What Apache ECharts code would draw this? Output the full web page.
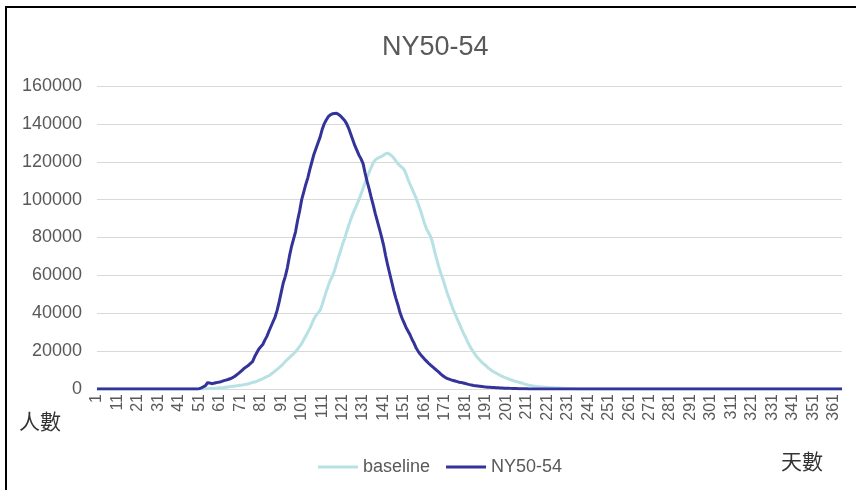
<!DOCTYPE html>
<html>
<head>
<meta charset="utf-8">
<script src="https://cdn.jsdelivr.net/npm/echarts@6/dist/echarts.min.js"></script>
<style>
html,body{margin:0;padding:0;background:#fff;}
#wrap{position:relative;width:856px;height:490px;overflow:hidden;}
#chart{position:absolute;left:0;top:0;width:856px;height:490px;}
#frame{position:absolute;left:5px;top:6px;width:900px;height:600px;border-left:2px solid #000;border-top:2px solid #000;pointer-events:none;}
</style>
</head>
<body>
<div id="wrap"><div id="chart"></div><div id="frame"></div></div>
<script>
// ---- data (one row = 10 days) ----
const titleText = 'NY50-54';
const seriesNames = ['baseline', 'NY50-54'];
const yTicks = [0, 20000, 40000, 60000, 80000, 100000, 120000, 140000, 160000];
const yAxisName = '人數';
const xAxisName = '天數';

const baseline = [
  0,0,0,0,0,0,0,0,0,0,            // 1-10
  0,0,0,0,0,0,0,0,0,0,            // 11-20
  0,0,0,0,0,0,0,0,0,0,            // 21-30
  0,0,0,0,0,0,0,0,0,0,            // 31-40
  0,0,0,0,0,0,0,0,0,0,            // 41-50
  0,0,50,100,150,200,250,300,400,500,                 // 51-60
  600,700,800,950,1100,1250,1400,1500,1650,1800,      // 61-70
  1950,2100,2300,2500,2800,3100,3400,3700,4000,4500,  // 71-80
  5000,5500,6000,6500,7000,7800,8600,9500,10400,11300,// 81-90
  12200,13300,14500,15600,16600,17600,18600,19700,21000,22500, // 91-100
  24000,26000,28000,30000,32000,34500,37000,38800,40200,41500, // 101-110
  44500,48000,51500,54500,57500,59500,62500,66000,69500,73000, // 111-120
  76500,79500,83000,86500,89500,92500,95000,97500,100000,103000, // 121-130
  106000,109000,112000,114500,117000,119500,121000,121800,122300,122800, // 131-140
  123500,124200,124500,124000,123200,122000,120500,119000,118000,117000, // 141-150
  116000,113500,110500,108000,105500,103000,100500,97500,94500,91000, // 151-160
  87500,84500,82500,80500,77000,72500,68500,64500,61000,58000, // 161-170
  54500,51000,48000,45000,42000,39500,37000,34500,32000,29500, // 171-180
  27500,25000,23000,21000,19500,17800,16500,15300,14200,13200, // 181-190
  12300,11300,10400,9600,9000,8400,7800,7200,6700,6200,        // 191-200
  5700,5300,4900,4600,4200,3900,3600,3300,3000,2600,           // 201-210
  2300,2000,1800,1600,1450,1300,1200,1100,1050,950,            // 211-220
  850,780,700,640,580,530,480,420,370,320,                     // 221-230
  270,220,170,120,80,50,30,15,0,0,                             // 231-240
  0,0,0,0,0,0,0,0,0,0,            // 241-250
  0,0,0,0,0,0,0,0,0,0,            // 251-260
  0,0,0,0,0,0,0,0,0,0,            // 261-270
  0,0,0,0,0,0,0,0,0,0,            // 271-280
  0,0,0,0,0,0,0,0,0,0,            // 281-290
  0,0,0,0,0,0,0,0,0,0,            // 291-300
  0,0,0,0,0,0,0,0,0,0,            // 301-310
  0,0,0,0,0,0,0,0,0,0,            // 311-320
  0,0,0,0,0,0,0,0,0,0,            // 321-330
  0,0,0,0,0,0,0,0,0,0,            // 331-340
  0,0,0,0,0,0,0,0,0,0,            // 341-350
  0,0,0,0,0,0,0,0,0,0,            // 351-360
  0,0,0,0,0                       // 361-365
];

const ny5054 = [
  0,0,0,0,0,0,0,0,0,0,            // 1-10
  0,0,0,0,0,0,0,0,0,0,            // 11-20
  0,0,0,0,0,0,0,0,0,0,            // 21-30
  0,0,0,0,0,0,0,0,0,0,            // 31-40
  0,0,0,0,0,0,0,0,0,0,            // 41-50
  200,600,1200,1800,3300,3200,2800,3000,3300,3500,             // 51-60
  3700,4000,4400,4700,5000,5400,5900,6500,7300,8100,           // 61-70
  9000,10000,11000,11700,12500,13500,14500,17000,19000,21000,  // 71-80
  22300,23500,25800,27800,30500,33000,35500,38000,41500,46000, // 81-90
  51000,56000,59500,64000,70000,75000,79000,83000,89000,94000, // 91-100
  100000,104000,108000,111500,116000,120000,124000,127000,130000,133000, // 101-110
  137000,140000,142000,143800,144800,145300,145500,145600,145000,144200, // 111-120
  143000,141800,140000,137500,134500,131500,128500,126000,123500,121500, // 121-130
  119000,114000,109500,105500,101000,97000,92500,88500,84500,80500, // 131-140
  76000,70500,65500,61000,56500,52000,48000,44500,40500,37500, // 141-150
  35000,32500,30500,28500,26000,24000,21500,19800,18300,17000, // 151-160
  15800,14700,13600,12600,11700,10800,9800,8900,7900,7000,     // 161-170
  6200,5600,5200,4800,4500,4200,3900,3600,3400,3200,           // 171-180
  2900,2600,2300,2100,1900,1750,1600,1450,1300,1150,           // 181-190
  1050,950,880,800,740,680,620,560,510,460,                    // 191-200
  420,380,330,290,250,210,170,140,110,90,                      // 201-210
  70,50,40,30,20,15,10,5,0,0,                                  // 211-220
  0,0,0,0,0,0,0,0,0,0,            // 221-230
  0,0,0,0,0,0,0,0,0,0,            // 231-240
  0,0,0,0,0,0,0,0,0,0,            // 241-250
  0,0,0,0,0,0,0,0,0,0,            // 251-260
  0,0,0,0,0,0,0,0,0,0,            // 261-270
  0,0,0,0,0,0,0,0,0,0,            // 271-280
  0,0,0,0,0,0,0,0,0,0,            // 281-290
  0,0,0,0,0,0,0,0,0,0,            // 291-300
  0,0,0,0,0,0,0,0,0,0,            // 301-310
  0,0,0,0,0,0,0,0,0,0,            // 311-320
  0,0,0,0,0,0,0,0,0,0,            // 321-330
  0,0,0,0,0,0,0,0,0,0,            // 331-340
  0,0,0,0,0,0,0,0,0,0,            // 341-350
  0,0,0,0,0,0,0,0,0,0,            // 351-360
  0,0,0,0,0                       // 361-365
];

// day categories 1..365
const days = [];
for (let d = 1; d <= 365; d++) days.push(String(d));

const FONT = '"Liberation Sans", Arial, sans-serif';
const chart = echarts.init(document.getElementById('chart'), null, {renderer: 'canvas'});
chart.setOption({
  backgroundColor: '#ffffff',
  animation: false,
  title: {
    text: titleText,
    left: 377, top: 29,
    textStyle: {fontFamily: FONT, fontSize: 27, fontWeight: 'normal', color: '#595959'}
  },
  grid: {left: 97, right: 14, top: 86, bottom: 101, containLabel: false},
  legend: {
    data: seriesNames,
    left: 318, top: 458, padding: 0,
    icon: 'rect', itemWidth: 40, itemHeight: 3, itemGap: 16,
    textStyle: {fontFamily: FONT, fontSize: 18, color: '#595959'}
  },
  xAxis: {
    type: 'category',
    data: days,
    boundaryGap: false,
    axisLine: {show: true, lineStyle: {color: '#d9d9d9', width: 1}},
    axisTick: {show: false},
    axisLabel: {interval: 9, rotate: 90, margin: 5, fontFamily: FONT, fontSize: 16, color: '#595959'},
    splitLine: {show: false}
  },
  yAxis: {
    type: 'value',
    min: yTicks[0], max: yTicks[yTicks.length - 1], interval: yTicks[1] - yTicks[0],
    axisLine: {show: false},
    axisTick: {show: false},
    axisLabel: {margin: 15, fontFamily: FONT, fontSize: 18, color: '#595959',
      formatter: function (v) { return String(v); }},
    splitLine: {show: true, lineStyle: {color: '#d9d9d9', width: 1}}
  },
  graphic: [
    {type: 'text', left: 19, top: 411, style: {text: yAxisName, font: '21px "Noto Sans CJK TC", sans-serif', fill: '#333333'}},
    {type: 'text', left: 781, top: 451, style: {text: xAxisName, font: '21px "Noto Sans CJK TC", sans-serif', fill: '#333333'}}
  ],
  series: [
    {name: seriesNames[0], type: 'line', data: baseline, symbol: 'none', smooth: false,
     lineStyle: {color: '#b7e1e4', width: 3}, itemStyle: {color: '#b7e1e4'}, z: 2},
    {name: seriesNames[1], type: 'line', data: ny5054, symbol: 'none', smooth: false,
     lineStyle: {color: '#333399', width: 3}, itemStyle: {color: '#333399'}, z: 3}
  ]
});
</script>
</body>
</html>
